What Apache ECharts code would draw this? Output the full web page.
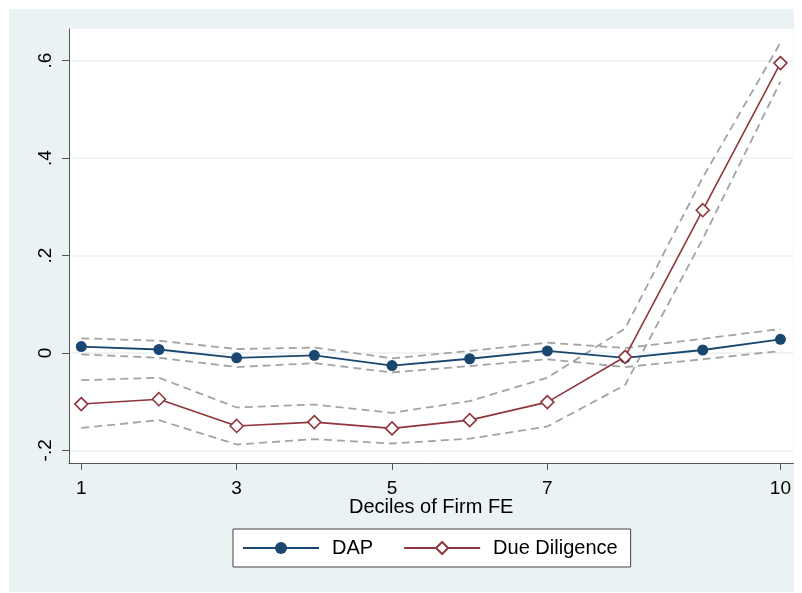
<!DOCTYPE html>
<html>
<head>
<meta charset="utf-8">
<script src="https://cdn.jsdelivr.net/npm/echarts@6/dist/echarts.min.js"></script>
<style>
  html, body { margin: 0; padding: 0; background: #ffffff; }
  #chart { position: absolute; left: 9px; top: 9px; width: 785px; height: 583px; }
</style>
</head>
<body>
<div id="chart"></div>
<script>
// Deciles of firm fixed effects
const deciles = [1, 2, 3, 4, 5, 6, 7, 8, 9, 10];

// DAP point estimates with confidence bounds
const dap      = [0.013, 0.007, -0.010, -0.005, -0.026, -0.012, 0.004, -0.010, 0.006, 0.028];
const dapUpper = [0.030, 0.025, 0.008, 0.011, -0.011, 0.004, 0.021, 0.010, 0.029, 0.049];
const dapLower = [-0.003, -0.010, -0.029, -0.021, -0.040, -0.027, -0.013, -0.029, -0.013, 0.004];

// Due Diligence point estimates with confidence bounds
const dd      = [-0.105, -0.095, -0.150, -0.142, -0.155, -0.138, -0.101, -0.008, 0.293, 0.595];
const ddUpper = [-0.056, -0.051, -0.112, -0.106, -0.123, -0.099, -0.051, 0.050, 0.360, 0.637];
const ddLower = [-0.154, -0.138, -0.188, -0.177, -0.186, -0.176, -0.151, -0.066, 0.234, 0.557];

// Axis ticks
const xTicks = [1, 3, 5, 7, 10];
const yTicks = [-0.2, 0, 0.2, 0.4, 0.6];
const yTickLabels = ['-.2', '0', '.2', '.4', '.6'];

const pairs = (ys) => deciles.map((d, i) => [d, ys[i]]);

const FONT = 'Arial, "Liberation Sans", Helvetica, sans-serif';
const NAVY = '#1a476f';
const MAROON = '#90353b';
const CI_GRAY = '#a3a3a3';

function ciSeries(name, ys) {
  return {
    name: name,
    type: 'line',
    data: pairs(ys),
    symbol: 'none',
    silent: true,
    z: 2,
    lineStyle: { color: CI_GRAY, width: 1.8, type: [8, 5] }
  };
}

const chart = echarts.init(document.getElementById('chart'), null, { renderer: 'canvas' });
chart.setOption({
  animation: false,
  backgroundColor: '#eaf2f3',
  textStyle: { fontFamily: FONT, color: '#000' },
  grid: {
    left: 60, top: 20, right: 0, bottom: 129,
    show: true, backgroundColor: '#ffffff', borderWidth: 0
  },
  legend: {
    data: ['DAP', 'Due Diligence'],
    left: 224, top: 520,
    orient: 'horizontal',
    backgroundColor: '#ffffff',
    borderColor: '#444444', borderWidth: 1,
    padding: [9, 13, 9, 9],
    itemWidth: 76, itemHeight: 15, itemGap: 30,
    textStyle: { fontFamily: FONT, fontSize: 20, color: '#000', padding: [0, 0, 0, 8] }
  },
  xAxis: {
    type: 'value',
    min: 0.842, max: 10.167,
    name: 'Deciles of Firm FE',
    nameLocation: 'middle',
    nameGap: 34,
    nameMoveOverlap: false,
    nameTextStyle: { fontFamily: FONT, fontSize: 20, color: '#000' },
    axisLine: { show: true, onZero: false, lineStyle: { color: '#555', width: 1 } },
    axisTick: { show: true, length: 7, lineStyle: { color: '#555', width: 1 }, customValues: xTicks },
    axisLabel: { fontFamily: FONT, fontSize: 19, color: '#000', margin: 16, customValues: xTicks, formatter: (v) => String(v) },
    splitLine: { show: false }
  },
  yAxis: {
    type: 'value',
    min: -0.226, max: 0.665,
    axisLine: { show: true, onZero: false, lineStyle: { color: '#555', width: 1 } },
    axisTick: { show: true, length: 7, lineStyle: { color: '#555', width: 1 }, customValues: yTicks },
    axisLabel: {
      fontFamily: FONT, fontSize: 19, color: '#000', margin: 14, rotate: 90,
      customValues: yTicks,
      formatter: (v) => {
        const i = yTicks.findIndex((t) => Math.abs(t - v) < 1e-9);
        return i >= 0 ? yTickLabels[i] : '';
      }
    },
    splitLine: { show: true, lineStyle: { color: '#eaf2f3', width: 1.5 } }
  },
  series: [
    ciSeries('DAP upper', dapUpper),
    ciSeries('DAP lower', dapLower),
    ciSeries('DD upper', ddUpper),
    ciSeries('DD lower', ddLower),
    {
      name: 'DAP',
      type: 'line',
      data: pairs(dap),
      z: 4,
      symbol: 'circle',
      symbolSize: 11,
      itemStyle: { color: NAVY, borderWidth: 0 },
      lineStyle: { color: NAVY, width: 1.8 }
    },
    {
      name: 'Due Diligence',
      type: 'line',
      data: pairs(dd),
      z: 5,
      symbol: 'diamond',
      symbolSize: 13,
      itemStyle: { color: '#ffffff', borderColor: MAROON, borderWidth: 1.6 },
      lineStyle: { color: MAROON, width: 1.6 }
    }
  ]
});
</script>
</body>
</html>
